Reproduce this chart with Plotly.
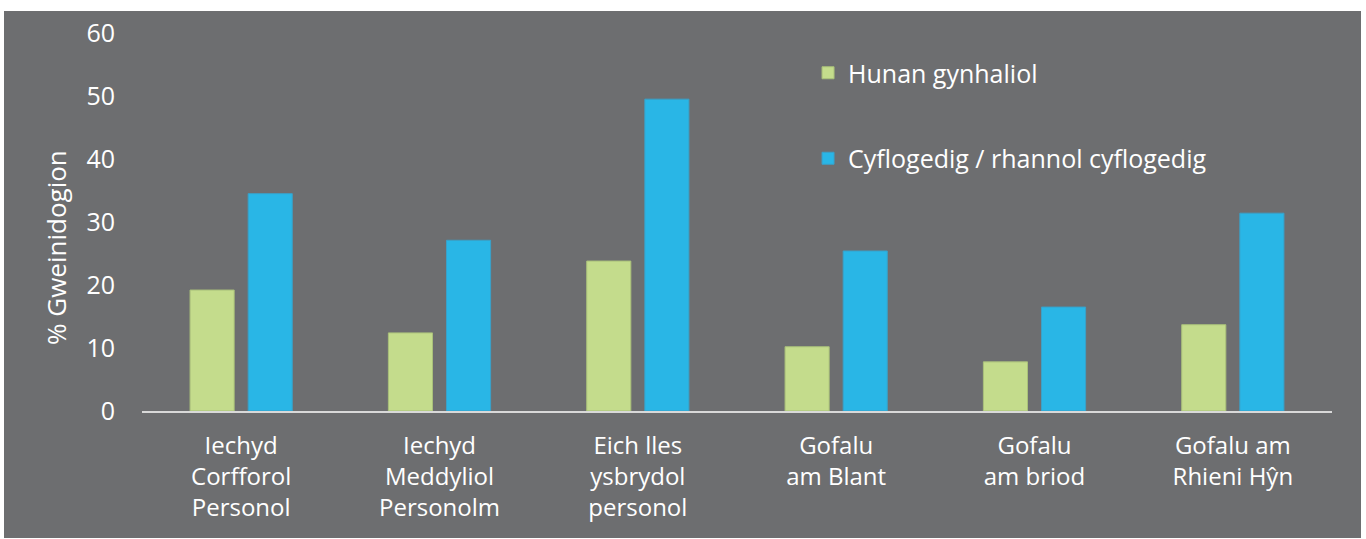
import plotly.graph_objects as go

categories = ["Iechyd<br>Corfforol<br>Personol", "Iechyd<br>Meddyliol<br>Personolm",
              "Eich lles<br>ysbrydol<br>personol", "Gofalu<br>am Blant",
              "Gofalu<br>am briod", "Gofalu am<br>Rhieni Hŷn"]
series_names = ["Hunan gynhaliol", "Cyflogedig / rhannol cyflogedig"]
self_employed = [19.2, 12.4, 23.8, 10.2, 7.8, 13.7]
employed = [34.5, 27.1, 49.5, 25.4, 16.5, 31.4]
y_ticks = [0, 10, 20, 30, 40, 50, 60]
y_title = "% Gweinidogion"

BG = "#6d6e70"
FONT = "Open Sans"

fig = go.Figure()
fig.add_trace(go.Bar(x=categories, y=self_employed, name=series_names[0],
                     legendgroup="a",
                     marker=dict(color="#c4dc8c", line=dict(color="#a9c07a", width=1))))
fig.add_trace(go.Bar(x=categories, y=employed, name=series_names[1],
                     legendgroup="b",
                     marker=dict(color="#29b6e6", line=dict(color="#3aa0c8", width=1))))

fig.add_shape(type="rect", xref="paper", yref="paper",
              x0=(4 - 142) / 1190, x1=(1361 - 142) / 1190,
              y0=(411 - 538) / 378, y1=(411 - 11) / 378,
              fillcolor=BG, line=dict(width=0), layer="below")

fig.add_annotation(text=y_title, textangle=-90, showarrow=False,
                   xref="paper", yref="paper",
                   x=(56 - 142) / 1190, y=(411 - 247) / 378,
                   xanchor="center", yanchor="middle",
                   font=dict(size=26, color="white", family=FONT))

fig.update_layout(
    width=1366, height=539,
    paper_bgcolor="white", plot_bgcolor=BG,
    margin=dict(l=142, r=34, t=33, b=128),
    barmode="group", bargap=0.414, bargroupgap=0.241,
    font=dict(family=FONT, color="white", size=24),
    showlegend=True,
    legend=dict(x=0.5597, y=0.955, xanchor="left", yanchor="top",
                font=dict(size=25, color="white"),
                bgcolor="rgba(0,0,0,0)", tracegroupgap=50,
                traceorder="grouped", itemwidth=30),
    xaxis=dict(showgrid=False, showline=True, linecolor="#d9d9d9", linewidth=2,
               ticks="", tickfont=dict(size=24, color="white"), zeroline=False,
               ticklabelstandoff=12),
    yaxis=dict(range=[0, 60], tickvals=y_ticks, showgrid=False, showline=False,
               zeroline=False, tickfont=dict(size=25, color="white"),
               ticklabelstandoff=26),
)

fig.write_html("out.html", config={"displayModeBar": False},
               post_script="document.body.style.margin='0px';")
